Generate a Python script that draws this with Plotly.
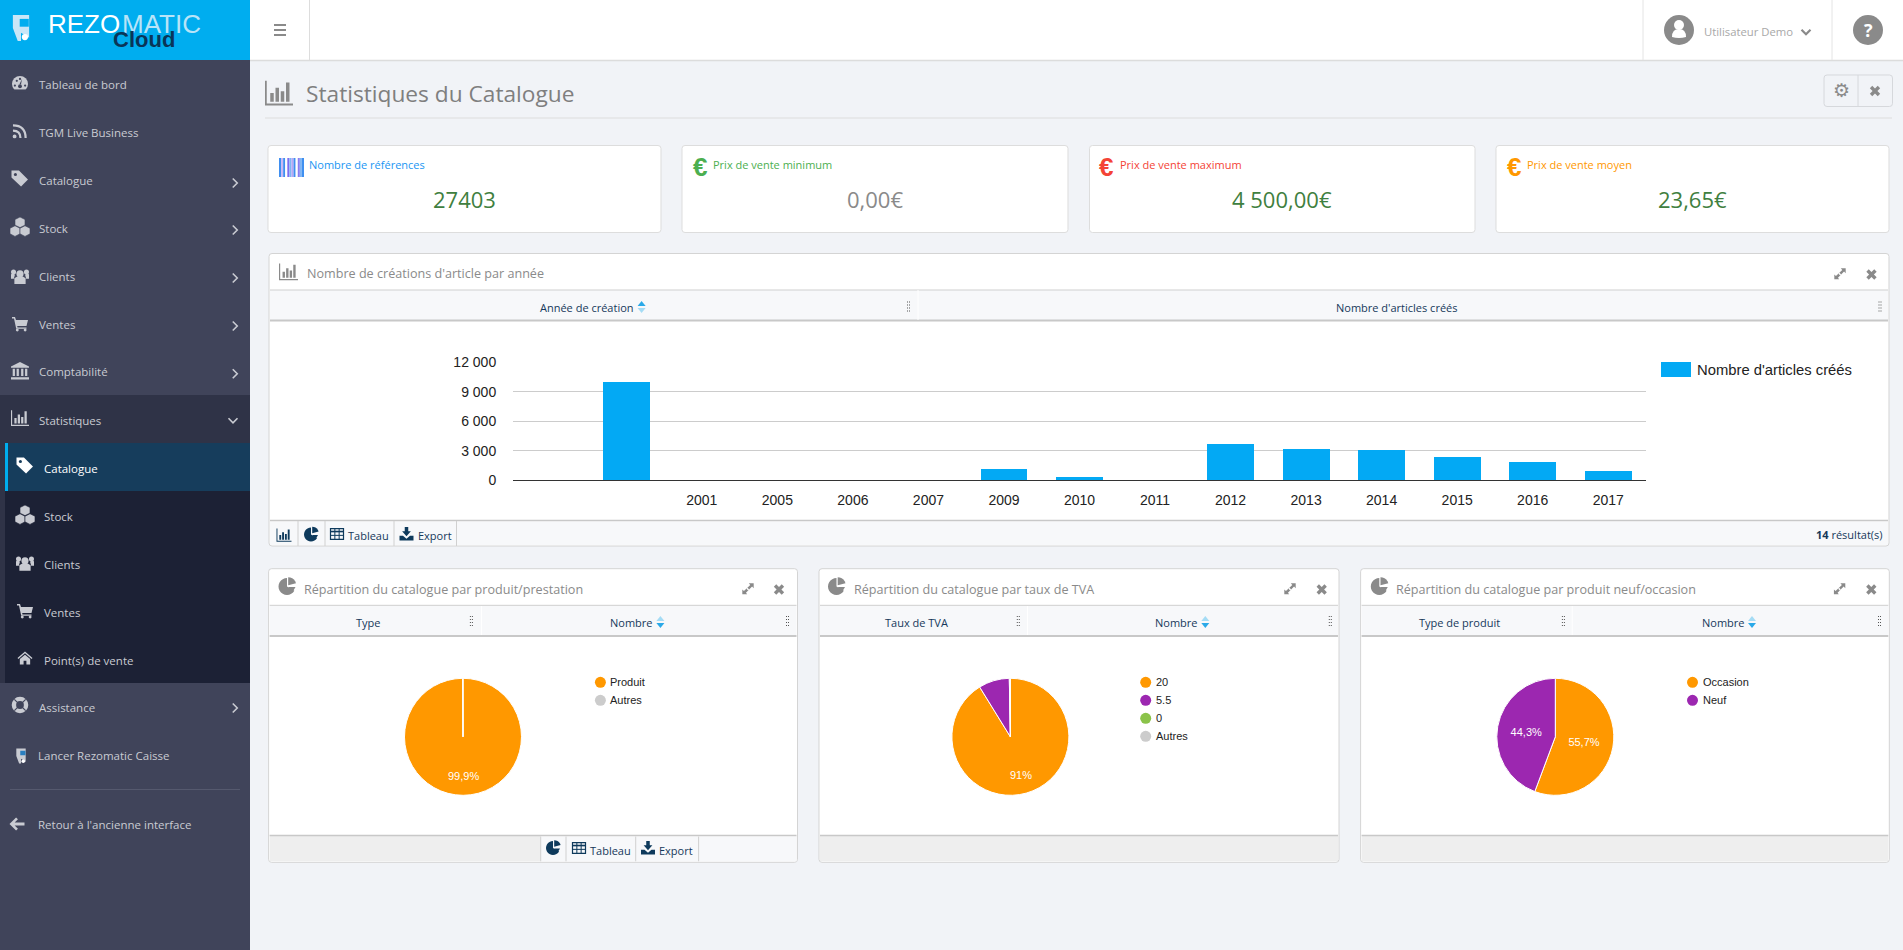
import math
import re
import plotly.graph_objects as go

# ---------- data ----------
YEARS = [" ", "2001", "2005", "2006", "2007", "2009", "2010", "2011", "2012", "2013", "2014", "2015", "2016", "2017"]
ARTICLES = [10000, 0, 0, 0, 0, 1150, 340, 0, 3690, 3185, 3080, 2370, 1860, 950]
BAR_SERIES = "Nombre d'articles créés"

PIE1_LABELS = ["Produit", "Autres"]
PIE1_VALUES = [99.9, 0.1]
PIE1_TEXT = ["99,9%", ""]
PIE2_LABELS = ["20", "5.5", "0", "Autres"]
PIE2_VALUES = [91.2, 8.5, 0.2, 0.1]
PIE2_TEXT = ["91%", "", "", ""]
PIE3_LABELS = ["Occasion", "Neuf"]
PIE3_VALUES = [55.7, 44.3]
PIE3_TEXT = ["55,7%", "44,3%"]

KPI_LABELS = ["Nombre de références", "Prix de vente minimum", "Prix de vente maximum", "Prix de vente moyen"]
KPI_VALUES = ["27403", "0,00€", "4 500,00€", "23,65€"]

MENU_ITEMS = ["Tableau de bord", "TGM Live Business", "Catalogue", "Stock", "Clients", "Ventes", "Comptabilité", "Statistiques"]
SUBMENU_ITEMS = ["Catalogue", "Stock", "Clients", "Ventes", "Point(s) de vente"]

# ---------- helpers ----------
W, H = 1903, 950
UI = "Open Sans"
CH = "Liberation Sans"
PAGE = "#f1f3f7"
SIDE = "#40445a"
NAVY = "#16385a"
GREY = "#8a8a8a"
MENU_SIZE = 11.5
shapes, notes = [], []


def X(p):
    return p / W


def Y(p):
    return 1 - p / H


def rect(x0, y0, x1, y1, fill, line=None, lw=0):
    shapes.append(dict(type="rect", xref="paper", yref="paper", x0=X(x0), x1=X(x1), y0=Y(y0), y1=Y(y1),
                       fillcolor=fill, line=dict(color=line or fill, width=lw), layer="below"))


def disc(cx, cy, r, fill, line=None, lw=0):
    shapes.append(dict(type="circle", xref="paper", yref="paper", x0=X(cx - r), x1=X(cx + r), y0=Y(cy + r), y1=Y(cy - r),
                       fillcolor=fill, line=dict(color=line or fill, width=lw), layer="below"))


def hline(x0, x1, y, color, lw=1):
    shapes.append(dict(type="line", xref="paper", yref="paper", x0=X(x0), x1=X(x1), y0=Y(y), y1=Y(y),
                       line=dict(color=color, width=lw), layer="below"))


def vline(x, y0, y1, color, lw=1):
    shapes.append(dict(type="line", xref="paper", yref="paper", x0=X(x), x1=X(x), y0=Y(y0), y1=Y(y1),
                       line=dict(color=color, width=lw), layer="below"))


def path(d, ox, oy, s, fill=None, line=None, lw=0):
    """d is an SVG path in a local box; ox, oy = page position of local 0,0; s = scale."""
    out, i = [], 0
    for tok in re.findall(r"[MLCQZ]|-?[\d.]+", d):
        if tok in "MLCQZ":
            out.append(tok)
        else:
            v = float(tok)
            if i % 2 == 0:
                out.append(f"{X(ox + v * s):.6f}")
            else:
                out.append(f"{Y(oy + v * s):.6f}")
            i += 1
    res, k = "", 0
    for t in out:
        if t in "MLCQZ":
            res += t
            k = 0
        else:
            res += ("," if k % 2 else (" " if k else "")) + t
            k += 1
    shapes.append(dict(type="path", xref="paper", yref="paper", path=res, fillcolor=fill or "rgba(0,0,0,0)",
                       line=dict(color=line or "rgba(0,0,0,0)", width=lw), layer="below"))


def rrect(x0, y0, x1, y1, fill, line, r=3, lw=1):
    d = (f"M{x0+r} {y0}L{x1-r} {y0}Q{x1} {y0} {x1} {y0+r}L{x1} {y1-r}Q{x1} {y1} {x1-r} {y1}"
         f"L{x0+r} {y1}Q{x0} {y1} {x0} {y1-r}L{x0} {y0+r}Q{x0} {y0} {x0+r} {y0}Z")
    path(d, 0, 0, 1, fill, line, lw)


def txt(x, y, s, size, color, anchor="left", font=UI, bold=False):
    if bold:
        s = f"<b>{s}</b>"
    notes.append(dict(xref="paper", yref="paper", x=X(x), y=Y(y), text=s, showarrow=False, xanchor=anchor,
                      yanchor="middle", borderpad=0, borderwidth=0, font=dict(family=font, size=size, color=color)))


# ---------- icons ----------
def bars_icon(cx, cy, s, color):
    k = s / 16
    path("M0 1L1 1L1 14L16 14L16 15.2L0 15.2Z M3 8L5 8L5 13L3 13Z M6 5L8 5L8 13L6 13Z M9 7L11 7L11 13L9 13Z M12 2L14 2L14 13L12 13Z",
         cx - s / 2, cy - s / 2, k, color)


def _polygon(pts, cx, cy, color):
    d = ""
    for i, (px, py) in enumerate(pts):
        d += ("M" if i == 0 else "L") + f"{px + cx:.2f} {py + cy:.2f}"
    path(d + "Z", 0, 0, 1, color)


def pie_icon(cx, cy, r, color):
    main = [(0, 0)]
    for a in range(120, 361, 15):
        t = math.radians(a)
        main.append((r * math.sin(t), -r * math.cos(t)))
    _polygon(main, cx, cy, color)
    wedge = [(1.2, -1.2)]
    for a in range(0, 76, 15):
        t = math.radians(a)
        wedge.append((1.2 + r * 0.95 * math.sin(t), -1.2 - r * 0.95 * math.cos(t)))
    _polygon(wedge, cx, cy, color)
    _polygon([(1.2, 0.6), (r, 0.6), (r * 0.62, r * 0.72)], cx, cy, color)


def tag_icon(cx, cy, s, color, bg):
    path("M0 0L7 0L15.5 8.5L9 15L0 6.5Z", cx - s / 2, cy - s / 2, s / 16, color)
    disc(cx - s * 0.27, cy - s * 0.27, s * 0.09, bg)


def cubes_icon(cx, cy, s, color, bg):
    k = s / 16
    for ox, oy in [(4, 0), (0, 7), (8, 7)]:
        path(f"M{ox+4} {oy}L{ox+8} {oy+2}L{ox+8} {oy+6.5}L{ox+4} {oy+8.5}L{ox} {oy+6.5}L{ox} {oy+2}Z",
             cx - s / 2, cy - s / 2, k, color, bg, 0.6)


def users_icon(cx, cy, s, color):
    disc(cx, cy - s * 0.12, s * 0.2, color)
    disc(cx - s * 0.36, cy - s * 0.22, s * 0.14, color)
    disc(cx + s * 0.36, cy - s * 0.22, s * 0.14, color)
    path("M3 10Q8 6 13 10L13 15L3 15Z M0 6.5Q2 5.5 3.5 7L2.5 10.5L0 10.5Z M16 6.5Q14 5.5 12.5 7L13.5 10.5L16 10.5Z",
         cx - s / 2, cy - s / 2, s / 16, color)


def cart_icon(cx, cy, s, color):
    path("M0 1L3 1L4 4L16 4L14.5 10L5.2 10L5.5 11.5L14.5 11.5L14.5 12.8L4.2 12.8L2 2.4L0 2.4Z",
         cx - s / 2, cy - s / 2, s / 16, color)
    disc(cx - s * 0.17, cy + s * 0.38, s * 0.09, color)
    disc(cx + s * 0.32, cy + s * 0.38, s * 0.09, color)


def bank_icon(cx, cy, s, color):
    path("M8 0L16 4L16 5L0 5L0 4Z M0 13.5L16 13.5L16 15.5L0 15.5Z M1.5 6L3.5 6L3.5 12.5L1.5 12.5Z M5 6L7 6L7 12.5L5 12.5Z M9 6L11 6L11 12.5L9 12.5Z M12.5 6L14.5 6L14.5 12.5L12.5 12.5Z",
         cx - s / 2, cy - s / 2, s / 16, color)


def rss_icon(cx, cy, s, color):
    k = s / 16
    disc(cx - s * 0.36, cy + s * 0.36, s * 0.13, color)
    path("M0.5 7.5Q8.5 7.5 8.5 15.5", cx - s / 2, cy - s / 2, k, None, color, 2.2)
    path("M0.5 2Q14 2 14 15.5", cx - s / 2, cy - s / 2, k, None, color, 2.2)


def gauge_icon(cx, cy, s, color, bg):
    disc(cx, cy, s * 0.5, color)
    rect(cx - s * 0.5, cy + s * 0.34, cx + s * 0.5, cy + s * 0.52, bg)
    for dx, dy in [(-0.32, 0.1), (-0.2, -0.2), (0, -0.32), (0.32, 0.1)]:
        disc(cx + s * dx, cy + s * dy, s * 0.07, bg)
    disc(cx, cy + s * 0.14, s * 0.12, bg)
    path("M7.6 8L10 3L9 8.6Z", cx - s / 2, cy - s / 2, s / 16, bg)


def buoy_icon(cx, cy, s, color):
    disc(cx, cy, s * 0.38, "rgba(0,0,0,0)", color, 4.4)
    for a in (45, 135):
        dx, dy = math.cos(math.radians(a)) * s * 0.5, math.sin(math.radians(a)) * s * 0.5
        shapes.append(dict(type="line", xref="paper", yref="paper", x0=X(cx - dx), x1=X(cx + dx), y0=Y(cy - dy), y1=Y(cy + dy),
                           line=dict(color=SIDE, width=1.2), layer="below"))


def arrow_icon(cx, cy, s, color):
    path("M0 8L7 1L9 3L5.5 6.3L16 6.3L16 9.7L5.5 9.7L9 13L7 15Z", cx - s / 2, cy - s / 2, s / 16, color)


def home_icon(cx, cy, s, color):
    path("M8 1L16 8L15 9L8 3L1 9L0 8Z M2.5 9L8 4.5L13.5 9L13.5 15L9.5 15L9.5 11L6.5 11L6.5 15L2.5 15Z",
         cx - s / 2, cy - s / 2, s / 16, color)


def plug_icon(cx, cy, s, light, dark, dot):
    path("M3 0L13 0L13 14L8 11L8 16L6 16L3 8Z", cx - s / 2, cy - s / 2, s / 16, light)
    rect(cx - s * 0.05, cy - s * 0.35, cx + s * 0.3, cy - s * 0.05, dark)
    disc(cx + s * 0.15, cy + s * 0.35, s * 0.12, dot)


def barcode_icon(x0, y0, x1, y1):
    cols = ["#3f8ff0", "#c9b6f5", "#3f8ff0", "#ffffff", "#7c6df0", "#7fb5f5", "#b8a6f5", "#3f8ff0", "#ffffff", "#8a7cf0", "#7fb5f5", "#3f8ff0"]
    w = (x1 - x0) / len(cols)
    for i, c in enumerate(cols):
        rect(x0 + i * w, y0, x0 + (i + 1) * w, y1, c)


def table_icon(cx, cy, s, color):
    hw, hh = s / 2, s * 0.42
    rect(cx - hw, cy - hh, cx + hw, cy + hh, "rgba(0,0,0,0)", color, 1.2)
    hline(cx - hw, cx + hw, cy - hh * 0.45, color, 1.6)
    hline(cx - hw, cx + hw, cy + hh * 0.25, color, 1)
    vline(cx - hw * 0.33, cy - hh, cy + hh, color, 1)
    vline(cx + hw * 0.33, cy - hh, cy + hh, color, 1)


def download_icon(cx, cy, s, color):
    path("M6 0L10 0L10 5L13 5L8 10.5L3 5L6 5Z M0 10L4 10L8 13.5L12 10L16 10L16 15.5L0 15.5Z", cx - s / 2, cy - s / 2, s / 16, color)


def expand_icon(cx, cy, s, color):
    path("M9 1L15 1L15 7L13 5L5.5 12.5L7 14.5L1 14.5L1 8.5L3 10.5L10.8 3Z", cx - s / 2, cy - s / 2, s / 16, color)
    path("M6.8 7.2L8.8 9.2", cx - s / 2, cy - s / 2, s / 16, None, "#ffffff", 1.4)


def close_icon(cx, cy, s, color):
    path("M4 0.5L8 4.5L12 0.5L15.5 4L11.5 8L15.5 12L12 15.5L8 11.5L4 15.5L0.5 12L4.5 8L0.5 4Z", cx - s / 2, cy - s / 2, s / 16, color)


def chevron(cx, cy, direction, color, s=5, lw=1.8):
    if direction == "right":
        d = f"M{cx-s/2} {cy-s}L{cx+s/2} {cy}L{cx-s/2} {cy+s}"
    else:
        d = f"M{cx-s} {cy-s/2}L{cx} {cy+s/2}L{cx+s} {cy-s/2}"
    path(d, 0, 0, 1, None, color, lw)


def handle(cx, cy):
    for i in range(4):
        for dx in (-1, 1):
            rect(cx + dx - 0.5, cy - 4.5 + i * 3, cx + dx + 0.5, cy - 3.5 + i * 3, "#555555")


def sort_arrows(cx, cy, up, down):
    path(f"M{cx-4} {cy-1}L{cx} {cy-6}L{cx+4} {cy-1}Z", 0, 0, 1, up)
    path(f"M{cx-4} {cy+1}L{cx} {cy+6}L{cx+4} {cy+1}Z", 0, 0, 1, down)


# ---------- shell ----------
rect(250, 0, W, 60, "#ffffff")
hline(250, W, 60.5, "#dcdcdc", 1.5)
rect(0, 0, 250, 60, "#00adef")
vline(309.5, 0, 60, "#dddddd")
for yy in (25, 30, 35):
    rect(274, yy - 1, 286, yy + 1, "#8a8a8a")
vline(1643, 0, 60, "#e4e4e4")
vline(1832, 0, 60, "#e4e4e4")
disc(1679, 30, 15, GREY)
disc(1679, 25, 5, "#ffffff")
path("M-7 9Q-7 1 0 1Q7 1 7 9Q0 11 -7 9Z", 1679, 28, 1, "#ffffff")
txt(1704, 32, "Utilisateur Demo", 11.3, "#a8a8a8")
chevron(1806, 32, "down", GREY, 4.5, 2.2)
disc(1868, 30, 15, GREY)
txt(1868, 30, "?", 18, "#ffffff", "center", UI, True)

# logo
plug_icon(21, 28, 26, "#c9e6f7", "#00adef", "#ffffff")
txt(48, 24, "REZO", 26, "#ffffff", font=CH)
txt(122, 24, "MATIC", 26, "#b8e4f8", font=CH)
txt(144, 39.5, "Cloud", 22, "#0a3558", "center", CH, True)

# sidebar
rect(0, 60, 250, H, SIDE)
rect(0, 395, 250, 683, "#2f3347")
rect(5, 443, 250, 683, "#1c2135")
rect(5, 443, 250, 491, "#163d5c")
rect(5, 443, 8, 491, "#00adef")
menu_y = [84.7, 132.7, 181, 228, 276, 324, 371.7, 420]
chev = [False, False, True, True, True, True, True, False]
SC = "#c9cbd2"
for name, yy, c in zip(MENU_ITEMS, menu_y, chev):
    txt(39.3, yy, name, MENU_SIZE, SC)
    if c:
        chevron(235, yy + 2, "right", SC, 4.5, 1.6)
chevron(233, 420.5, "down", SC, 4.5, 1.6)
sub_y = [468, 516, 564, 612, 660]
for i, (name, yy) in enumerate(zip(SUBMENU_ITEMS, sub_y)):
    txt(44.3, yy, name, MENU_SIZE, "#ffffff" if i == 0 else SC)
gauge_icon(20, 84, 16, SC, SIDE)
rss_icon(20, 131, 15, SC)
tag_icon(20, 179, 17, SC, SIDE)
cubes_icon(20, 227, 20, SC, SIDE)
users_icon(20, 276, 18, SC)
cart_icon(20, 324, 16, SC)
bank_icon(20, 371, 18, SC)
bars_icon(20, 418, 18, SC)
tag_icon(25, 466, 17, "#ffffff", "#163d5c")
cubes_icon(25, 515, 20, SC, "#1c2135")
users_icon(25, 563, 18, SC)
cart_icon(25, 611, 16, SC)
home_icon(25, 658, 15, SC)
buoy_icon(20, 705, 16, SC)
plug_icon(21, 756, 15, SC, "#2a7fc0", "#ffffff")
arrow_icon(17, 824, 15, SC)
txt(39.3, 707, "Assistance", MENU_SIZE, SC)
chevron(235, 708, "right", SC, 4.5, 1.6)
txt(38.3, 755, "Lancer Rezomatic Caisse", MENU_SIZE, SC)
hline(10, 240, 789.5, "#55596e", 1)
txt(38.3, 824.7, "Retour à l'ancienne interface", MENU_SIZE, SC)

# page title
bars_icon(279, 93, 28, GREY)
txt(306, 93, "Statistiques du Catalogue", 22.7, "#7f7f7f")
hline(265, 1892, 118, "#dddddd", 1)
rrect(1824, 75, 1892.5, 106.5, PAGE, "#d6d8dc")
vline(1858, 75, 106.5, "#d6d8dc")
txt(1841, 90, "<b>⚙</b>", 19, GREY, "center", "DejaVu Sans")
close_icon(1875, 91, 11, GREY)

# KPI cards
card_x = [(268, 661), (682, 1068), (1089.5, 1475), (1496, 1889)]
card_lab = [309, 713.3, 1120, 1527]
card_val = [464.3, 875, 1282, 1692.7]
card_col = ["#2196f3", "#4caf50", "#f44336", "#ff9800"]
card_eur = [None, 699.6, 1105.6, 1514]
val_col = ["#3f8040", "#8a8a8a", "#3f8040", "#3f8040"]
for (a, b), lx, vx, col, ex, lab, val, vc in zip(card_x, card_lab, card_val, card_col, card_eur, KPI_LABELS, KPI_VALUES, val_col):
    rrect(a, 145.5, b, 232.5, "#ffffff", "#dddddd")
    txt(lx, 165, lab, 11, col)
    txt(vx, 199.5, val, 22, vc, "center")
    if ex:
        txt(ex, 167, "€", 26, col, "center", CH, True)
barcode_icon(279, 158, 304, 177)


# panels
def panel(x0, x1, y0, head, th, foot, y1, title, title_x, icon_x, icon):
    rrect(x0, y0, x1, y1, "#ffffff", "#d4d4d4")
    rect(x0 + 1, head, x1 - 1, th, "#f7f8fa")
    hline(x0 + 1, x1 - 1, head, "#cfcfcf", 1)
    hline(x0 + 1, x1 - 1, th + 0.5, "#c8c8c8", 2)
    rect(x0 + 1, foot, x1 - 1, y1 - 1, "#eeeeee")
    hline(x0 + 1, x1 - 1, foot, "#c8c8c8", 1.5)
    txt(title_x, (y0 + head) / 2 + 2, title, 12.6, "#8a8a8a")
    if icon == "bars":
        bars_icon(icon_x, (y0 + head) / 2, 19, GREY)
    else:
        pie_icon(icon_x, (y0 + head) / 2 - 0.5, 8.5, GREY)


# main chart panel
panel(269, 1889, 253.5, 290, 320, 520.5, 546, "Nombre de créations d'article par année", 307, 288.5, "bars")
rect(270, 521.5, 1888, 545, "#f7f8fa")
vline(918, 290, 320, "#ffffff")
txt(587, 307, "Année de création", 11, NAVY, "center")
sort_arrows(641.6, 307, "#2aa9e8", "#a5dcf5")
handle(908.5, 306)
txt(1396.8, 307, BAR_SERIES, 11, NAVY, "center")
handle(1880, 306)
for xx in (298, 325, 394, 456.5):
    vline(xx, 521, 546, "#d0d0d0")
bars_icon(284, 535, 15, "#0e3a5c")
pie_icon(311, 534.5, 7, "#0e3a5c")
table_icon(337, 534, 13, "#0e3a5c")
txt(368, 535.5, "Tableau", 11, NAVY, "center")
download_icon(406.5, 534, 14, "#0e3a5c")
txt(434.5, 535.5, "Export", 11, NAVY, "center")
txt(1882.5, 534, "<b>14</b> résultat(s)", 11, NAVY, "right")
expand_icon(1840, 274, 13, GREY)
close_icon(1871.5, 274.5, 11, GREY)
rect(1661, 362, 1691, 377, "#03a9f4")
txt(1697, 370, BAR_SERIES, 14.8, "#222222", font=CH)

# lower panels
LOWER = [
    dict(x0=268.6, x1=797.5, title="Répartition du catalogue par produit/prestation", tx=304.3, ix=287, ex=748, cx=779,
         h1="Type", h1x=367.9, hd1=471.4, div=481.4, nx=631.4, ax=660.4, hd2=787.5, lx=600.4,
         labels=PIE1_LABELS),
    dict(x0=819, x1=1339, title="Répartition du catalogue par taux de TVA", tx=854.4, ix=836.5, ex=1290, cx=1321.7,
         h1="Taux de TVA", h1x=916.4, hd1=1018.3, div=1027.6, nx=1176.7, ax=1205.3, hd2=1330.3, lx=1145.7,
         labels=PIE2_LABELS),
    dict(x0=1360.6, x1=1889.3, title="Répartition du catalogue par produit neuf/occasion", tx=1396.2, ix=1379.3, ex=1839.6, cx=1871.3,
         h1="Type de produit", h1x=1459.7, hd1=1563.4, div=1572.2, nx=1723.5, ax=1752, hd2=1879.5, lx=1692.5,
         labels=PIE3_LABELS),
]
PIE_COLORS = {"Produit": "#ff9800", "20": "#ff9800", "Occasion": "#ff9800", "5.5": "#9c27b0", "Neuf": "#9c27b0",
              "0": "#8bc34a", "Autres": "#cccccc"}
for p in LOWER:
    panel(p["x0"], p["x1"], 568.7, 605.3, 635.5, 835.5, 862.3, p["title"], p["tx"], p["ix"], "pie")
    vline(p["div"], 606, 635, "#ffffff")
    txt(p["h1x"], 622, p["h1"], 11, NAVY, "center")
    handle(p["hd1"], 620.5)
    txt(p["nx"], 622, "Nombre", 11, NAVY, "center")
    sort_arrows(p["ax"], 622, "#a5dcf5", "#2aa9e8")
    handle(p["hd2"], 620.5)
    expand_icon(p["ex"], 589, 13, GREY)
    close_icon(p["cx"], 589.5, 11, GREY)
    for i, lab in enumerate(p["labels"]):
        yy = 682.3 + 18 * i
        disc(p["lx"], yy, 5.5, PIE_COLORS[lab])
        txt(p["lx"] + 10, yy, lab, 11, "#222222", font=CH)

rect(540.7, 836.5, 796.5, 861.3, "#f7f8fa")
for xx in (540.7, 566, 635.7, 698.6):
    vline(xx, 836.5, 861.3, "#d0d0d0")
pie_icon(553, 848, 7, "#0e3a5c")
table_icon(579, 848, 13, "#0e3a5c")
txt(610, 850, "Tableau", 11, NAVY, "center")
download_icon(648, 848, 14, "#0e3a5c")
txt(676.4, 850, "Export", 11, NAVY, "center")

# ---------- traces ----------
fig = go.Figure()
fig.add_trace(go.Bar(x=YEARS, y=ARTICLES, name=BAR_SERIES, marker=dict(color="#03a9f4", line=dict(width=0)), width=0.62,
                     hoverinfo="skip", showlegend=False))


def add_pie(labels, values, text, cx, cy, label_in_slice, r=58.5):
    fig.add_trace(go.Pie(labels=labels, values=values, text=text if label_in_slice else None,
                         textinfo="text" if label_in_slice else "none", textposition="inside",
                         insidetextorientation="horizontal", sort=False, direction="clockwise", rotation=0,
                         marker=dict(colors=[PIE_COLORS[l] for l in labels], line=dict(color="#ffffff", width=1)),
                         insidetextfont=dict(family=CH, size=11, color="#ffffff"),
                         domain=dict(x=[X(cx - r), X(cx + r)], y=[Y(cy + r), Y(cy - r)]),
                         hoverinfo="skip", showlegend=False))
    if not label_in_slice:
        # the first slice's label sits at two thirds of the radius, on the slice's middle angle
        mid = math.radians(360 * values[0] / sum(values) / 2)
        txt(cx + 0.67 * r * math.sin(mid), cy - 0.67 * r * math.cos(mid), text[0], 11, "#ffffff", "center", CH)


add_pie(PIE1_LABELS, PIE1_VALUES, PIE1_TEXT, 463, 736.8, False)
add_pie(PIE2_LABELS, PIE2_VALUES, PIE2_TEXT, 1010.4, 736.8, False)
add_pie(PIE3_LABELS, PIE3_VALUES, PIE3_TEXT, 1555.3, 736.8, True)

fig.update_layout(
    width=W, height=H, autosize=False, margin=dict(l=0, r=0, t=0, b=0, pad=0, autoexpand=False),
    paper_bgcolor=PAGE, plot_bgcolor="rgba(0,0,0,0)", separators=", ", bargap=0,
    shapes=shapes, annotations=notes, hovermode=False,
    xaxis=dict(domain=[X(513), X(1646)], type="category", categoryorder="array", categoryarray=YEARS,
               tickmode="array", tickvals=YEARS, ticktext=YEARS, range=[-1.5, 13.5],
               showgrid=False, zeroline=False, showline=True, linecolor="#333333", linewidth=1,
               ticks="outside", ticklen=7, tickcolor="rgba(0,0,0,0)",
               tickfont=dict(family=CH, size=14, color="#222222"), fixedrange=True),
    yaxis=dict(domain=[Y(480.3), Y(362.3)], range=[0, 12000], tickmode="array", tickvals=[0, 3000, 6000, 9000, 12000],
               tickformat=",d", showgrid=True, gridcolor="#cccccc", gridwidth=1, zeroline=False, showline=False,
               ticks="outside", ticklen=13, tickcolor="rgba(0,0,0,0)",
               tickfont=dict(family=CH, size=14, color="#222222"), fixedrange=True),
)

fig.write_html("out.html", config={"displayModeBar": False},
               post_script="document.body.style.margin='0';document.body.style.overflow='hidden';")
